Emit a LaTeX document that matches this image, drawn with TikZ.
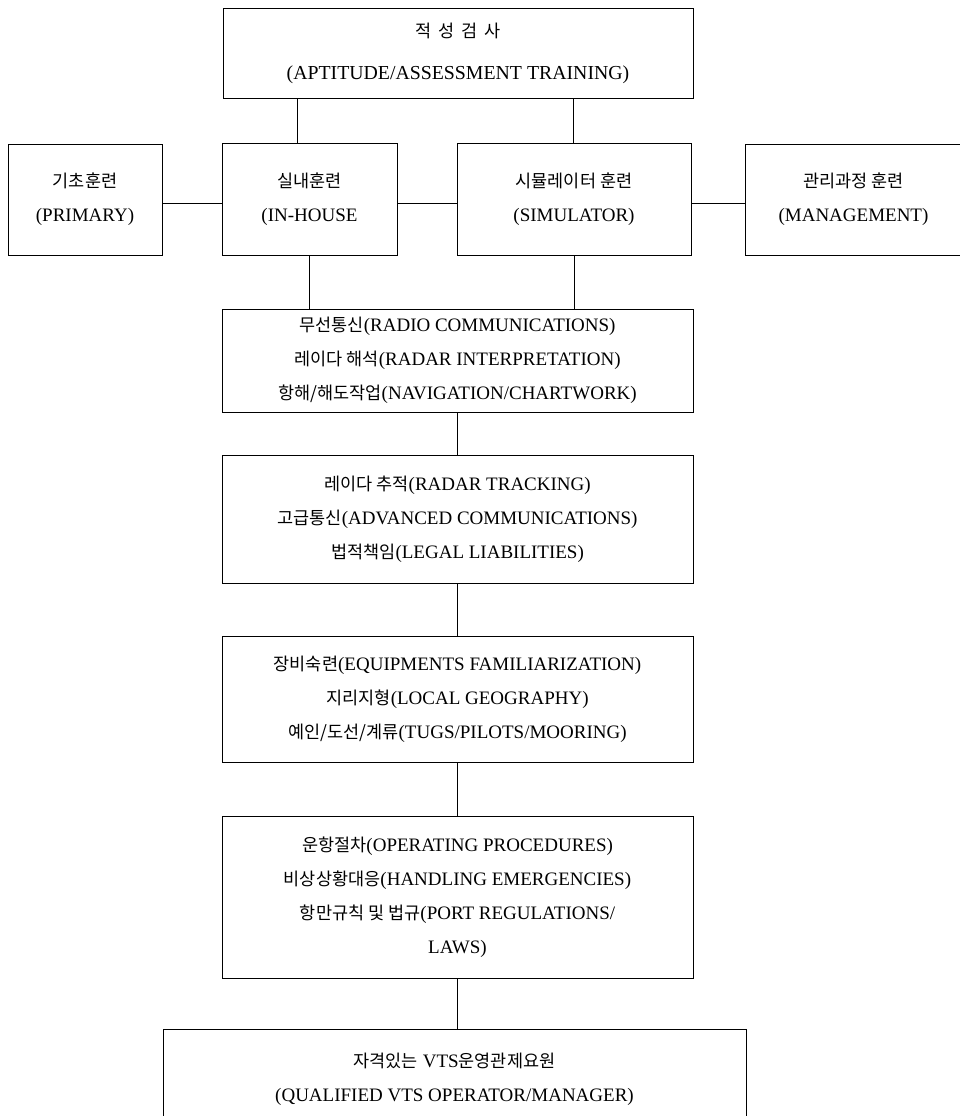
\documentclass[tikz,border=0pt]{standalone}
\usepackage{fontspec}
\setmainfont{Liberation Serif}
\newfontfamily\kr{Noto Sans CJK KR}
\newcommand{\K}[1]{{\kr\fontsize{17.5}{20}\selectfont #1}}
\begin{document}
\begin{tikzpicture}[x=1pt,y=-1pt,
  box/.style={draw, line width=0.9pt, inner sep=0pt, align=center,
    font=\fontsize{19}{34}\selectfont},
  conn/.style={line width=0.9pt}]
\useasboundingbox (0,0) rectangle (960,1116);
% top
\node[box, minimum width=470, minimum height=90] (top) at (458,53)
  {\K{적\hspace{7pt}성\hspace{7pt}검\hspace{7pt}사}\\[8pt]\fontsize{19.8}{34}\selectfont(APTITUDE/ASSESSMENT TRAINING)};
% middle row
\node[box, minimum width=154, minimum height=111] (primary) at (85,199.5)
  {\K{기초훈련}\\(PRIMARY)};
\node[box, minimum width=175, minimum height=112] (inhouse) at (309.5,199)
  {\K{실내훈련}\\(IN-HOUSE};
\node[box, minimum width=234, minimum height=112] (sim) at (574,199)
  {\K{시뮬레이터 훈련}\\(SIMULATOR)};
\node[box, minimum width=217, minimum height=111] (mgmt) at (853.5,199.5)
  {\K{관리과정 훈련}\\(MANAGEMENT)};
% stack
\node[box, minimum width=471, minimum height=103] (b2) at (457.5,360.5)
  {\K{무선통신}(RADIO COMMUNICATIONS)\\\K{레이다 해석}(RADAR INTERPRETATION)\\\K{항해/해도작업}(NAVIGATION/CHARTWORK)};
\node[box, minimum width=471, minimum height=128] (b3) at (457.5,519)
  {\K{레이다 추적}(RADAR TRACKING)\\\K{고급통신}(ADVANCED COMMUNICATIONS)\\\K{법적책임}(LEGAL LIABILITIES)};
\node[box, minimum width=471, minimum height=126] (b4) at (457.5,699)
  {\K{장비숙련}(EQUIPMENTS FAMILIARIZATION)\\\K{지리지형}(LOCAL GEOGRAPHY)\\\K{예인/도선/계류}(TUGS/PILOTS/MOORING)};
\node[box, minimum width=471, minimum height=162] (b5) at (457.5,897)
  {\K{운항절차}(OPERATING PROCEDURES)\\\K{비상상황대응}(HANDLING EMERGENCIES)\\\K{항만규칙 및 법규}(PORT REGULATIONS/\\LAWS)};
\node[box, minimum width=583, minimum height=101] (final) at (454.5,1079.5)
  {\K{자격있는} VTS\K{운영관제요원}\\(QUALIFIED VTS OPERATOR/MANAGER)};
% connectors
\draw[conn] ([xshift=-12.5pt]inhouse.north) -- ([xshift=-12.5pt]inhouse.north |- top.south);
\draw[conn] ([xshift=-1pt]sim.north) -- ([xshift=-1pt]sim.north |- top.south);
\draw[conn] ([yshift=-3.5pt]primary.east) -- ([yshift=-3.5pt]primary.east -| inhouse.west);
\draw[conn] ([yshift=-4pt]inhouse.east) -- ([yshift=-4pt]inhouse.east -| sim.west);
\draw[conn] ([yshift=-4pt]sim.east) -- ([yshift=-4pt]sim.east -| mgmt.west);
\draw[conn] (inhouse.south) -- (inhouse.south |- b2.north);
\draw[conn] (sim.south) -- (sim.south |- b2.north);
\draw[conn] (b2.south) -- (b3.north);
\draw[conn] (b3.south) -- (b4.north);
\draw[conn] (b4.south) -- (b5.north);
\draw[conn] (b5.south) -- (b5.south |- final.north);
\end{tikzpicture}
\end{document}
